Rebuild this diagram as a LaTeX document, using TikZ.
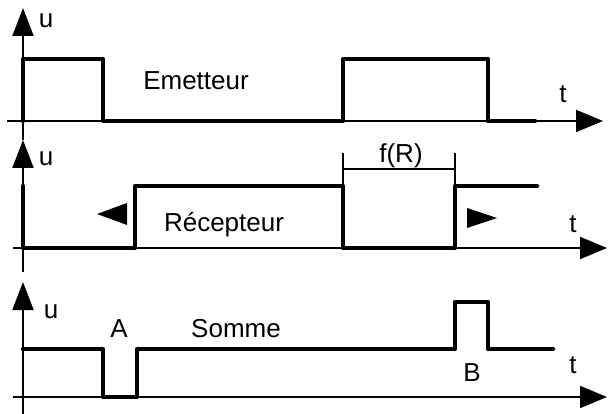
\documentclass[tikz,border=0pt]{standalone}
\usepackage{fontspec}
\setmainfont{Liberation Sans}
\usetikzlibrary{arrows.meta}
\begin{document}
\begin{tikzpicture}[x=1pt,y=-1pt,
  axis/.style={line width=2pt},
  sig/.style={line width=4.5pt, line cap=round, line join=round},
  dim/.style={line width=1.2pt},
  lbl/.style={inner sep=0pt, anchor=base, font=\fontsize{26}{31}\selectfont},
  harrow/.style={-{Triangle[length=27pt,width=22pt]}},
  varrow/.style={-{Triangle[length=28pt,width=21pt]}}]
\useasboundingbox (0,0) rectangle (608,414);
% ---------- panel 1 : Emetteur
\coordinate (a1b) at (23,140); \coordinate (a1t) at (23,8);
\coordinate (t1l) at (7,121);  \coordinate (t1r) at (603,121);
\draw[axis,varrow] (a1b) -- (a1t);
\draw[axis,harrow] (t1l) -- (t1r);
\draw[sig] (23,121) -- (23,59) -- (103,59) -- (103,121) -- (343,121) -- (343,59) -- (488,59) -- (488,121) -- (535,121);
\node[lbl] (u1) at (46,28) {u};
\node[lbl] (tt1) at (563,103) {t};
\node[lbl] (em) at (196,90) {Emetteur};
% ---------- panel 2 : Recepteur
\coordinate (a2b) at (23,272); \coordinate (a2t) at (23,140);
\coordinate (t2l) at (13,248); \coordinate (t2r) at (607,248);
\draw[axis,varrow] (a2b) -- (a2t);
\draw[axis,harrow] (t2l) -- (t2r);
\draw[sig] (23,186) -- (23,248) -- (135,248) -- (135,186) -- (343,186) -- (343,248) -- (455,248) -- (455,186) -- (537,186);
\fill (97,214) -- (127,203) -- (127,225) -- cycle;
\fill (497,218) -- (467,208) -- (467,228) -- cycle;
\draw[dim] (343,153) -- (343,186);
\draw[dim] (455,153) -- (455,186);
\draw[dim] (343,169) -- (455,169);
\node[lbl] (fr) at (401,163) {f(R)};
\node[lbl] (u2) at (46,166) {u};
\node[lbl] (tt2) at (573,233) {t};
\node[lbl] (rec) at (224,232) {Récepteur};
% ---------- panel 3 : Somme
\coordinate (a3b) at (23,414); \coordinate (a3t) at (23,282);
\coordinate (t3l) at (13,397); \coordinate (t3r) at (607,397);
\draw[axis,varrow] (a3b) -- (a3t);
\draw[axis,harrow] (t3l) -- (t3r);
\draw[sig] (23,349) -- (103,349) -- (103,397) -- (137,397) -- (137,349) -- (455,349) -- (455,302) -- (488,302) -- (488,349) -- (553,349);
\node[lbl] (u3) at (51,318) {u};
\node[lbl] (tt3) at (573,373) {t};
\node[lbl] (na) at (119,337) {A};
\node[lbl] (som) at (236,337) {Somme};
\node[lbl] (nb) at (472,381) {B};
\end{tikzpicture}
\end{document}
